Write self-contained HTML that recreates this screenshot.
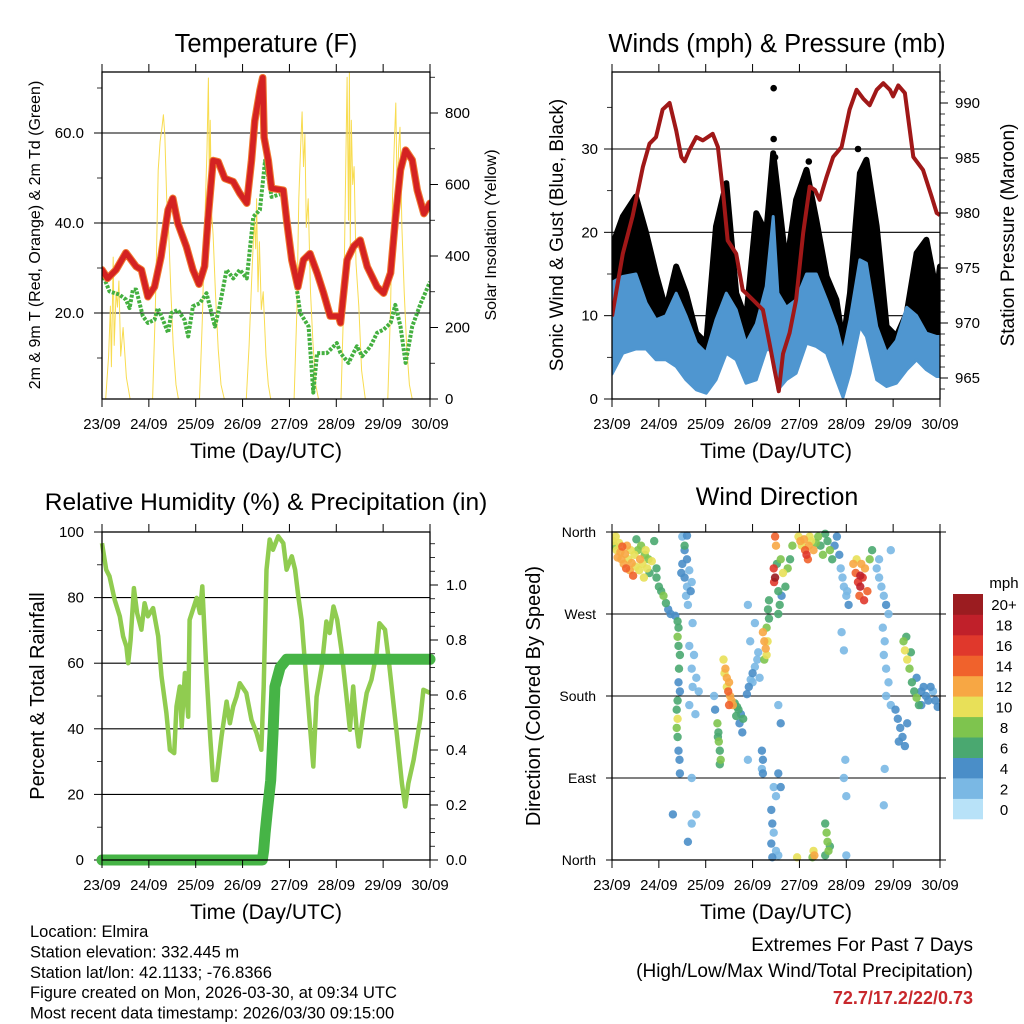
<!DOCTYPE html>
<html><head><meta charset="utf-8"><style>
html,body{margin:0;padding:0;background:#fff;}
svg{display:block;font-family:"Liberation Sans",sans-serif;}
</style></head><body>
<svg id="fig" width="1024" height="1024" viewBox="0 0 1024 1024" xmlns="http://www.w3.org/2000/svg">
<rect width="1024" height="1024" fill="#fff"/>
</svg>
<script>
// ---------- DATA (days since 23/09 00 UTC) ----------
const dayLabels=["23/09","24/09","25/09","26/09","27/09","28/09","29/09","30/09"];
const tempTicks=[20,40,60];
const solarTicks=[0,200,400,600,800];
const windTicks=[0,10,20,30];
const presTicks=[965,970,975,980,985,990];
const rhTicks=[0,20,40,60,80,100];
const rainTicks=[0.0,0.2,0.4,0.6,0.8,1.0];
const dirTicks=[0,90,180,270,360];
const dirLabels=["North","East","South","West","North"];
const spdBins=["0","2","4","6","8","10","12","14","16","18","20+"];

const tDay=[0,0.12,0.3,0.51,0.73,0.84,0.98,1.12,1.26,1.41,1.51,1.62,1.8,1.94,2.07,2.19,2.26,2.37,2.48,2.62,2.8,2.94,3.09,3.19,3.26,3.37,3.43,3.46,3.55,3.62,3.87,3.94,4.05,4.18,4.3,4.44,4.59,4.73,4.87,5.05,5.09,5.23,5.37,5.51,5.66,5.87,6.01,6.16,6.26,6.37,6.48,6.62,6.73,6.87,7.0];
const tempF=[29.6,27.7,29.6,33.4,30.3,29.6,23.6,25.8,32.5,42.9,45.5,39.9,34.8,29.6,26.4,30.4,40.7,53.9,53.6,49.9,49.2,46.6,44.4,53.9,62.7,69.4,72.3,59.0,53.9,47.7,47.3,40.7,31.8,25.8,31.8,33.2,28.9,24.4,19.3,19.3,17.8,31.8,34.8,36.2,30.3,25.8,24.4,28.9,40.7,51.8,56.2,54.0,47.3,42.1,44.4];
const dDay=[0,0.16,0.37,0.51,0.59,0.66,0.73,0.87,0.98,1.12,1.19,1.3,1.41,1.48,1.62,1.76,1.84,1.94,2.09,2.23,2.3,2.41,2.51,2.66,2.8,2.94,3.09,3.23,3.37,3.48,3.55,3.62,3.87,3.94,4.09,4.23,4.41,4.51,4.59,4.8,5.01,5.09,5.26,5.44,5.55,5.73,5.87,6.01,6.16,6.26,6.37,6.48,6.62,6.8,7.0];
const dewF=[28.9,24.8,24.1,23.0,21.1,25.2,25.2,19.3,17.8,18.5,21.1,18.5,15.6,20.0,20.7,18.5,14.8,21.5,22.2,24.4,21.5,17.0,21.5,29.6,27.7,29.6,27.7,41.4,42.9,53.9,50.2,45.8,46.6,42.1,30.3,20.0,17.0,2.3,11.1,11.1,13.3,11.1,8.9,12.6,10.4,12.6,15.6,16.3,17.8,21.8,17.0,8.9,17.0,22.1,26.9];
const sDay=[0.08,0.14,0.18,0.2,0.24,0.26,0.3,0.33,0.36,0.4,0.45,0.52,0.6,
 1.08,1.14,1.2,1.24,1.28,1.31,1.34,1.38,1.42,1.47,1.52,1.58,1.63,
 2.08,2.14,2.2,2.24,2.27,2.29,2.31,2.34,2.37,2.42,2.48,2.54,2.61,
 3.08,3.14,3.2,3.25,3.28,3.3,3.33,3.36,3.4,3.44,3.5,3.55,3.6,
 4.1,4.16,4.2,4.24,4.27,4.3,4.33,4.36,4.4,4.45,4.5,4.56,4.62,
 5.1,5.16,5.2,5.23,5.26,5.28,5.3,5.32,5.35,5.38,5.42,5.48,5.54,5.62,
 6.1,6.16,6.2,6.24,6.27,6.3,6.33,6.36,6.4,6.45,6.5,6.56,6.62];
const solarW=[0,120,260,90,397,150,300,257,330,120,200,60,0,
 0,260,640,720,760,795,740,560,480,300,150,40,0,
 0,220,520,700,898,600,780,520,460,300,140,40,0,
 0,150,350,500,420,560,300,440,250,300,120,40,0,
 0,250,560,710,803,650,740,480,560,300,160,40,0,
 0,280,640,900,500,915,420,780,600,650,380,260,80,0,
 0,260,560,720,828,560,700,760,480,300,150,40,0];

const wDay=[0,0.23,0.51,0.73,0.94,1.15,1.37,1.58,1.8,2.01,2.22,2.44,2.65,2.86,3.08,3.29,3.44,3.54,3.72,3.93,4.15,4.36,4.58,4.79,4.93,5.08,5.29,5.43,5.65,5.86,6.07,6.29,6.5,6.71,6.93,7.0];
const windLo=[3,5.5,6,6,4.7,4.7,3.9,2.3,1.1,0.7,2.3,5.5,4.7,1.9,2.3,5.9,5.9,1.1,2.3,3.1,6.7,6.3,5.5,2.3,0.2,3.1,8.7,7.5,2.3,1.5,1.9,3.5,4.7,3.5,2.7,2.7];
const windHi=[14,14.7,15,11.5,9.5,10,12.7,10,6.7,5.5,9.5,12.7,10.7,6.7,9,13.5,21.9,12.7,11,11.9,15,15,11.9,8.7,5.5,9.5,16.7,16.3,8.7,5.5,7,11,10,7.9,7.5,7.5];
const gustHi=[18.3,21.9,24.3,19.9,15,10.7,15.9,12.7,7.9,6.7,20.7,25.9,12.7,9.5,22.3,19.9,29.5,24.7,15.9,23.9,27.5,21.5,14.7,11.9,6.7,12.7,27.1,28.7,20.7,8.7,7.5,10.3,17.5,19.1,12.7,15.9];
const gustOutDay=[3.45,3.45,3.48,3.52,3.54,3.5,4.2,5.25];
const gustOutMph=[37.3,31.2,29.0,24.5,22.0,26.0,28.5,30.0];
const pDay=[0,0.23,0.44,0.66,0.8,0.94,1.08,1.23,1.37,1.48,1.55,1.65,1.8,1.94,2.15,2.26,2.37,2.47,2.65,2.79,3.01,3.22,3.36,3.47,3.56,3.65,3.79,3.93,4.08,4.22,4.33,4.43,4.58,4.72,4.9,5.07,5.22,5.36,5.5,5.65,5.79,5.93,6.0,6.11,6.25,6.43,6.64,6.82,6.93,7.0];
const presMb=[970.6,976.3,979.7,984.2,986.3,986.9,989.4,990.0,987.5,985.1,984.7,985.7,986.9,986.6,987.2,986.0,981.8,977.5,976.3,973.0,972.1,971.2,968.2,965.7,963.8,967.2,969.1,972.1,978.2,982.4,982.1,981.2,983.3,985.1,986.0,989.4,991.2,990.4,989.8,991.2,991.8,991.2,990.6,991.6,990.9,985.1,983.9,981.5,980.0,979.8];

const rhDay=[0,0.09,0.16,0.27,0.38,0.45,0.52,0.56,0.61,0.68,0.75,0.84,0.91,0.98,1.09,1.2,1.27,1.375,1.45,1.54,1.59,1.66,1.7,1.77,1.84,1.87,1.94,2.02,2.09,2.14,2.23,2.31,2.37,2.44,2.55,2.66,2.73,2.8,2.87,2.94,3.08,3.19,3.3,3.4,3.45,3.51,3.58,3.65,3.76,3.87,3.94,4.05,4.12,4.19,4.26,4.37,4.44,4.51,4.58,4.69,4.79,4.86,4.94,5.02,5.11,5.21,5.29,5.36,5.43,5.48,5.58,5.65,5.75,5.86,5.92,6.04,6.11,6.18,6.29,6.4,6.47,6.54,6.65,6.79,6.86,7.0];
const rhPct=[96.6,88.5,86.5,79.3,74.3,68.2,65.1,60.0,67.1,82.9,75.3,70.2,78.3,74.3,76.8,68.2,56.0,44.8,33.6,32.6,46.8,52.9,40.7,57.0,43.7,73.2,76.3,79.9,75.3,83.4,57.0,37.6,24.4,24.4,37.6,48.3,41.7,46.8,49.8,53.9,50.9,42.7,38.7,33.6,52.9,88.5,97.7,94.6,98.7,96.6,88.5,92.6,88.5,80.4,73.2,52.9,40.7,28.5,49.8,59.0,72.7,69.2,77.3,73.2,64.1,50.9,39.7,52.9,40.7,34.6,44.8,50.9,54.9,63.1,72.2,70.2,62.1,52.9,38.7,23.4,16.3,23.4,30.5,42.7,51.9,50.9];
const rainDay=[0,3.42,3.45,3.48,3.53,3.6,3.65,3.69,3.8,3.94,7.0];
const rainIn=[0,0,0.036,0.097,0.18,0.29,0.46,0.63,0.70,0.73,0.73];

const dirDay=[0.02,0.05,0.08,0.1,0.12,0.15,0.18,0.2,0.22,0.25,0.28,0.3,0.32,0.35,0.38,0.4,0.42,0.45,0.48,0.5,0.52,0.55,0.58,0.6,0.62,0.65,0.68,0.7,0.72,0.75,0.78,0.8,0.85,0.9,0.95,
0.95,1.0,1.05,1.1,1.15,1.2,1.25,
1.35,1.4,1.42,1.4,1.42,1.45,1.43,1.42,1.45,1.4,1.38,1.4,1.38,1.4,1.42,1.44,1.45,1.3,
1.5,1.6,1.55,1.6,1.5,1.65,1.55,1.7,1.6,1.68,1.58,1.62,1.72,1.55,1.48,
1.65,1.75,1.7,1.8,1.72,1.85,1.65,1.78,1.7,1.7,1.62,1.8,
2.25,2.27,2.28,2.3,2.32,2.26,2.3,2.2,2.18,
2.38,2.42,2.45,2.5,2.48,2.52,2.55,2.45,2.4,2.58,2.5,
2.62,2.67,2.7,2.75,2.8,2.72,2.78,2.65,
2.88,2.92,2.96,3.0,3.05,3.1,3.12,3.0,2.95,3.05,2.9,2.9,3.15,
3.22,3.25,3.28,3.3,3.25,3.32,3.3,3.35,3.33,3.35,
3.2,3.22,3.2,3.22,
3.45,3.5,3.4,3.42,3.45,3.4,3.5,3.42,3.55,3.6,3.55,3.6,3.55,
3.48,3.5,3.45,3.48,3.46,3.52,3.6,3.65,3.55,3.62,3.58,3.7,3.75,3.8,3.55,3.85,
3.98,4.02,4.05,4.1,4.12,4.15,4.18,4.2,4.22,4.25,4.3,4.35,4.4,4.45,4.5,
4.55,4.6,4.65,4.7,4.75,4.8,4.85,
4.3,4.32,4.28,4.55,4.58,4.6,4.62,4.55,4.65,3.95,
4.88,4.92,4.95,5.0,5.05,5.02,4.9,4.95,4.95,5.0,5.0,4.98,
5.15,5.2,5.25,5.3,5.28,5.35,5.4,5.45,5.38,5.22,5.32,5.3,5.5,5.55,
5.65,5.7,5.75,5.8,5.85,5.9,5.7,5.95,
5.78,5.82,5.8,5.85,5.9,5.85,5.95,5.82,5.8,
6.05,6.1,6.15,6.2,6.25,6.12,6.3,
6.22,6.25,6.3,6.35,6.28,6.38,
6.4,6.45,6.5,6.55,6.6,6.65,6.7,6.75,6.8,6.85,6.9,6.95,6.5,6.6];
const dirDeg=[350,345,355,340,332,348,338,330,344,325,336,320,345,330,318,340,326,312,335,322,352,340,318,330,345,325,310,335,340,320,330,315,328,350,320,
310,300,295,290,282,275,270,
268,262,255,245,235,225,210,195,185,175,165,155,145,135,120,110,95,50,
355,356,340,330,325,318,310,305,300,295,290,280,260,345,315,
235,225,210,200,190,185,170,160,90,40,20,50,
150,140,130,120,110,135,105,165,180,
220,210,200,195,185,180,175,190,205,170,170,
172,168,165,160,155,150,140,158,
182,190,198,205,212,220,228,195,240,260,110,280,200,
250,240,232,225,220,240,255,265,275,285,
120,110,100,95,
80,70,55,40,30,18,10,3,5,80,95,150,170,
355,345,320,310,305,325,330,315,295,290,280,300,320,330,270,345,
355,350,345,352,340,335,330,345,355,350,340,348,355,345,335,
358,350,340,330,345,355,335,
10,5,3,40,30,20,10,5,15,3,
320,310,300,290,280,295,250,230,90,70,5,110,
325,315,305,300,290,310,320,295,285,330,325,312,330,340,
320,310,300,290,280,270,330,340,
255,240,225,210,195,180,170,100,60,
165,155,145,135,125,130,150,
240,230,220,210,245,228,
195,185,178,170,185,190,180,175,190,185,175,168,200,170];
const dirMph=[10,9,11,10,12,11,13,12,14,13,12,14,12,10,13,11,12,14,10,11,7,8,10,12,9,10,11,8,10,11,9,7,10,7,6,
7,7,6,8,6,5,4,
4,7,6,8,6,7,6,5,4,6,7,10,8,6,5,4,4,4,
3,4,4,5,4,3,4,2,3,4,2,3,2,6,5,
2,2,3,2,3,2,2,3,2,3,4,2,
8,7,8,6,8,6,7,4,3,
10,12,13,12,14,13,12,10,11,12,14,
6,7,6,5,6,4,4,7,
4,4,3,4,3,3,2,2,2,3,3,2,3,
12,13,12,10,9,11,8,7,6,7,
4,4,3,4,
3,3,4,4,3,4,3,4,2,4,4,4,3,
14,12,16,20,16,6,8,10,6,5,6,7,8,6,7,8,
10,12,11,13,14,16,15,12,11,10,12,9,8,7,9,
6,7,8,6,5,4,4,
10,12,9,7,8,9,8,7,6,10,
2,3,2,3,4,2,2,2,2,2,2,3,
12,14,16,18,14,16,12,14,16,10,13,18,8,6,
3,2,3,3,4,2,3,2,
2,3,2,3,2,3,2,2,2,
4,4,5,4,5,4,4,
8,10,10,8,7,6,
6,7,8,6,4,4,5,4,4,3,4,5,4,4];
const spdColors=["#b8e2f8","#7ab8e4","#4a8ec8","#4aa870","#7ec44e","#e8e058","#f7a744","#f0622c","#e0382c","#c0202a","#9b1c20"];

// ---------- HELPERS ----------
const svg=document.getElementById('fig');
const NS='http://www.w3.org/2000/svg';
function mk(tag,attrs,parent){const e=document.createElementNS(NS,tag);for(const k in attrs)e.setAttribute(k,attrs[k]);(parent||svg).appendChild(e);return e;}
function txt(s,x,y,size,anchor,parent,extra){const e=mk('text',Object.assign({x:x,y:y,'font-size':size,'text-anchor':anchor||'middle',fill:'#000'},extra||{}),parent);e.textContent=s;return e;}
function lin(d0,d1,r0,r1){return v=>r0+(v-d0)/(d1-d0)*(r1-r0);}
function path(xs,ys,sx,sy){let d='';for(let i=0;i<xs.length;i++)d+=(i?'L':'M')+sx(xs[i]).toFixed(1)+' '+sy(ys[i]).toFixed(1);return d;}

function frame(g,L,R,T,B,sx){
  mk('rect',{x:L,y:T,width:R-L,height:B-T,fill:'none',stroke:'#000','stroke-width':1.3},g);
  for(let i=0;i<8;i++){const x=sx(i);
    mk('line',{x1:x,y1:B,x2:x,y2:B+8,stroke:'#000','stroke-width':1},g);
    mk('line',{x1:x,y1:T,x2:x,y2:T-8,stroke:'#000','stroke-width':1},g);
    const t=txt(dayLabels[i],x,B+30,15,'middle',g);
    
    
  }
  const xt=txt('Time (Day/UTC)',(L+R)/2,B+59,21,'middle',g);
  
  
}
function leftTicks(g,L,R,vals,sy,labels,grid,minor,lblX){
  vals.forEach((v,i)=>{const y=sy(v);
    mk('line',{x1:L-8,y1:y,x2:L,y2:y,stroke:'#000','stroke-width':1},g);
    if(grid)mk('line',{x1:L,y1:y,x2:R,y2:y,stroke:'#000','stroke-width':1.1},g);
    const t=txt(labels[i],lblX,y+5,15,'end',g);
    
    
  });
  (minor||[]).forEach(v=>{const y=sy(v);mk('line',{x1:L-5,y1:y,x2:L,y2:y,stroke:'#000','stroke-width':0.8},g);});
}
function rightTicks(g,R,vals,sy,labels,minor,lblX){
  vals.forEach((v,i)=>{const y=sy(v);
    mk('line',{x1:R,y1:y,x2:R+8,y2:y,stroke:'#000','stroke-width':1},g);
    const t=txt(labels[i],lblX,y+5,15,'start',g);
    
    
  });
  (minor||[]).forEach(v=>{const y=sy(v);mk('line',{x1:R,y1:y,x2:R+5,y2:y,stroke:'#000','stroke-width':0.8},g);});
}
function rot(s,x,y,size,g,name){const t=txt(s,x,y,size,'middle',g,{transform:'rotate(-90 '+x+' '+y+')'});return t;}
function range(a,b,s){const r=[];for(let v=a;v<=b+1e-9;v+=s)r.push(+v.toFixed(4));return r;}

// ---------- PANEL 1: TEMPERATURE ----------
(function(){
  const L=102,R=430,T=72,B=399;
  const g=mk('g',{});
  
  
  const sx=lin(0,7,L,R), sy=lin(20,60,313,133), sy2=lin(0,800,399,113);
  const cp=mk('clipPath',{id:'c1'},g);mk('rect',{x:L,y:T,width:R-L,height:B-T},cp);
  const tt=txt('Temperature (F)',266,52,25.5,'middle',g);
  
  
  leftTicks(g,L,R,tempTicks,sy,tempTicks.map(v=>v.toFixed(1)),true,[10,30,50,70],84);
  rightTicks(g,R,solarTicks,sy2,solarTicks.map(String),range(100,900,200),445);
  const pg=mk('g',{'clip-path':'url(#c1)'},g);
  const s=mk('path',{d:path(sDay,solarW,sx,sy2),fill:'none',stroke:'#f8dc50','stroke-width':1,'stroke-linejoin':'round'},pg);
  
  
  const d=mk('path',{d:path(dDay,dewF,sx,sy),fill:'none',stroke:'#44b040','stroke-width':4,'stroke-dasharray':'3 1.5','stroke-linejoin':'round'},pg);
  
  
  const o=mk('path',{d:path(tDay,tempF,sx,sy),fill:'none',stroke:'#f07830','stroke-width':7.5,'stroke-linejoin':'round','stroke-linecap':'round'},pg);
  
  
  const r=mk('path',{d:path(tDay,tempF,sx,sy),fill:'none',stroke:'#d42222','stroke-width':5.5,'stroke-linejoin':'round','stroke-linecap':'round'},pg);
  
  
  frame(g,L,R,T,B,sx);
  rot('2m & 9m T (Red, Orange) & 2m Td (Green)',40,235,16,g,'y-axis-title');
  rot('Solar Insolation (Yellow)',496,235,16,g,'right-axis-title');
})();

// ---------- PANEL 2: WINDS ----------
(function(){
  const L=612,R=940,T=72,B=399;
  const g=mk('g',{});
  
  
  const sx=lin(0,7,L,R), sy=lin(0,30,399,149), sy2=lin(965,990,378,103);
  const cp=mk('clipPath',{id:'c2'},g);mk('rect',{x:L,y:T-6,width:R-L,height:B-T+8},cp);
  const tt=txt('Winds (mph) & Pressure (mb)',777,52,25.5,'middle',g);
  
  
  leftTicks(g,L,R,windTicks,sy,windTicks.map(String),true,[5,15,25,35],598);
  rightTicks(g,R,presTicks,sy2,presTicks.map(String),range(964,992,1),955);
  const pg=mk('g',{'clip-path':'url(#c2)'},g);
  let d='M'+sx(wDay[0])+' '+sy(windHi[0]-2);
  for(let i=0;i<wDay.length;i++)d+='L'+sx(wDay[i]).toFixed(1)+' '+sy(gustHi[i]).toFixed(1);
  for(let i=wDay.length-1;i>=0;i--)d+='L'+sx(wDay[i]).toFixed(1)+' '+sy(Math.max(0,windHi[i]-2)).toFixed(1);
  const ga=mk('path',{d:d+'Z',fill:'#000',stroke:'#000','stroke-width':6,'stroke-linejoin':'round'},pg);
  
  
  gustOutDay.forEach((v,i)=>{const c=mk('circle',{cx:sx(v),cy:sy(gustOutMph[i]),r:3.3,fill:'#000'},pg);
    
    });
  d='';
  for(let i=0;i<wDay.length;i++)d+=(i?'L':'M')+sx(wDay[i]).toFixed(1)+' '+sy(windHi[i]).toFixed(1);
  for(let i=wDay.length-1;i>=0;i--)d+='L'+sx(wDay[i]).toFixed(1)+' '+sy(windLo[i]).toFixed(1);
  const wa=mk('path',{d:d+'Z',fill:'#4f96d0',stroke:'#4f96d0','stroke-width':3,'stroke-linejoin':'round'},pg);
  
  
  const p=mk('path',{d:path(pDay,presMb,sx,sy2),fill:'none',stroke:'#a01818','stroke-width':4,'stroke-linejoin':'round'},pg);
  
  
  frame(g,L,R,T,B,sx);
  rot('Sonic Wind & Gust (Blue, Black)',563,235,19,g,'y-axis-title');
  rot('Station Pressure (Maroon)',1014,235,19,g,'right-axis-title');
})();

// ---------- PANEL 3: RH & PRECIP ----------
(function(){
  const L=102,R=430,T=532,B=860;
  const g=mk('g',{});
  
  
  const sx=lin(0,7,L,R), sy=lin(0,100,860,532), sy2=lin(0,1.0,860,585);
  const cp=mk('clipPath',{id:'c3'},g);mk('rect',{x:L-8,y:T,width:R-L+16,height:B-T+8},cp);
  const tt=txt('Relative Humidity (%) & Precipitation (in)',266,510,24.5,'middle',g);
  
  
  leftTicks(g,L,R,rhTicks.slice(0,5),sy,rhTicks.slice(0,5).map(String),true,[10,30,50,70,90],84);
  leftTicks(g,L,R,[100],sy,['100'],false,[],84);
  rightTicks(g,R,rainTicks,sy2,rainTicks.map(v=>v.toFixed(1)),range(0.05,1.15,0.05).filter(v=>Math.abs(v*10-Math.round(v*10))>0.01 || Math.round(v*10)%2),446);
  const pg=mk('g',{'clip-path':'url(#c3)'},g);
  const h=mk('path',{d:path(rhDay,rhPct,sx,sy),fill:'none',stroke:'#90cc50','stroke-width':4.5,'stroke-linejoin':'round'},pg);
  
  
  const rp=mk('path',{d:path(rainDay,rainIn,sx,sy2),fill:'none',stroke:'#46b446','stroke-width':11,'stroke-linejoin':'round','stroke-linecap':'round'},pg);
  
  
  frame(g,L,R,T,B,sx);
  rot('Percent & Total Rainfall',44,696,20,g,'y-axis-title');
})();

// ---------- PANEL 4: WIND DIRECTION ----------
(function(){
  const L=612,R=940,T=532,B=860;
  const g=mk('g',{});
  
  
  const sx=lin(0,7,L,R), sy=lin(0,360,860,532);
  const tt=txt('Wind Direction',777,505,25,'middle',g);
  
  
  dirTicks.forEach((v,i)=>{const y=sy(v);
    mk('line',{x1:L-6,y1:y,x2:R+6,y2:y,stroke:'#000','stroke-width':1.1},g);
    const t=txt(dirLabels[i],596,y+5,14,'end',g);
    
    });
  const cp=mk('clipPath',{id:'c4'},g);mk('rect',{x:L,y:T-4,width:R-L,height:B-T+8},cp);
  const pg=mk('g',{'clip-path':'url(#c4)'},g);
  const order=dirDay.map((_,i)=>i).sort((a,b)=>dirMph[a]-dirMph[b]);
  order.forEach(i=>{const bin=Math.min(10,Math.floor(dirMph[i]/2));
    const c=mk('circle',{cx:sx(dirDay[i]).toFixed(1),cy:sy(dirDeg[i]).toFixed(1),r:4.2,fill:spdColors[bin],'fill-opacity':0.9},pg);
    
    });
  frame(g,L,R,T,B,sx);
  rot('Direction (Colored By Speed)',540,696,20,g,'y-axis-title');
  const cb=mk('g',{},g);
  
  
  const bh=(819-594)/11;
  spdBins.forEach((lbl,i)=>{const y=819-(i+1)*bh;
    const r=mk('rect',{x:953,y:y.toFixed(1),width:30,height:(bh+0.3).toFixed(1),fill:spdColors[i]},cb);
    
    
    const t=txt(lbl,1004,y+bh/2+6,15,'middle',cb);
    
    });
  const u=txt('mph',1004,588,15,'middle',cb);
  
  
})();

// ---------- FOOTER TEXT ----------
const info=["Location: Elmira","Station elevation: 332.445 m","Station lat/lon: 42.1133; -76.8366","Figure created on Mon, 2026-03-30, at 09:34 UTC","Most recent data timestamp: 2026/03/30 09:15:00"];
info.forEach((s,i)=>{const t=txt(s,30,937+i*20.4,16.5,'start');
  
  });
const e1=txt('Extremes For Past 7 Days',973,951,19,'end');


const e2=txt('(High/Low/Max Wind/Total Precipitation)',973,977,19,'end');


const e3=txt('72.7/17.2/22/0.73',973,1004,18,'end',null,{'font-weight':'bold',fill:'#c8282c'});


</script>
</body></html>
